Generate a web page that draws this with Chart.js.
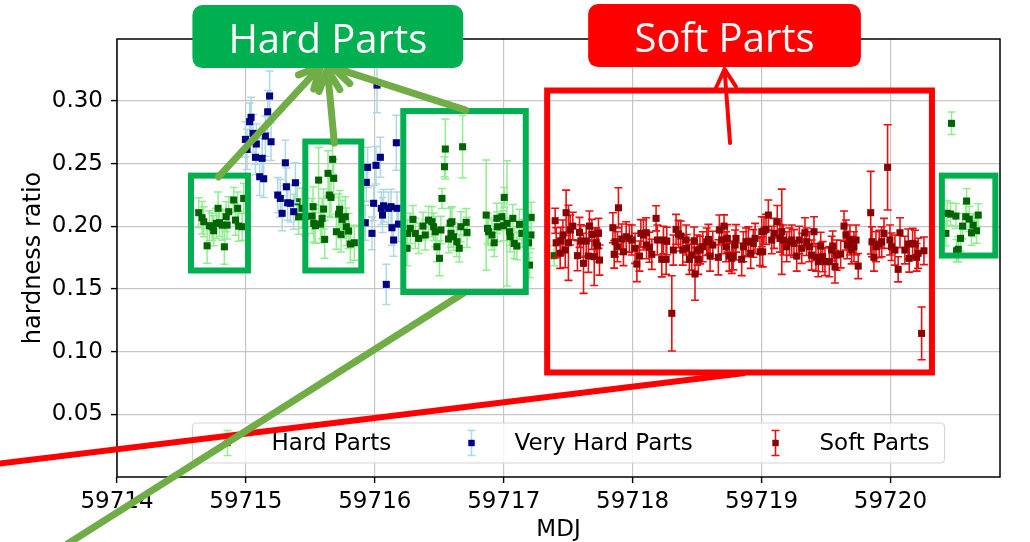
<!DOCTYPE html>
<html>
<head>
<meta charset="utf-8">
<script src="https://cdn.jsdelivr.net/npm/chart.js"></script>
<style>
  html, body { margin: 0; padding: 0; background: #fff; }
  #wrap { width: 1030px; height: 542px; }
</style>
</head>
<body>
<div id="wrap"><canvas id="moncanvas" width="1030" height="542"></canvas></div>
<script>
const seriesNames = ['Hard Parts', 'Very Hard Parts', 'Soft Parts'];
const xTicks = [59714, 59715, 59716, 59717, 59718, 59719, 59720];
const yTicks = [0.05, 0.10, 0.15, 0.20, 0.25, 0.30];

// hard parts (green)
const hardX = [
  59714.634, 59714.660, 59714.673, 59714.699, 59714.717, 59714.738, 59714.750, 59714.771, 59714.784, 59714.795,
  59714.816, 59714.833, 59714.847, 59714.854, 59714.867, 59714.905, 59714.919, 59714.936, 59714.944, 59714.971,
  59714.983,
  59715.397, 59715.409, 59715.436, 59715.461, 59715.513, 59715.521, 59715.526, 59715.539, 59715.564, 59715.578,
  59715.591, 59715.603, 59715.611, 59715.637, 59715.647, 59715.660, 59715.673, 59715.681, 59715.702, 59715.719,
  59715.727, 59715.738, 59715.746, 59715.771, 59715.779, 59715.797, 59715.810, 59715.841,
  59716.250, 59716.254, 59716.275, 59716.296, 59716.314, 59716.340, 59716.374, 59716.391, 59716.417, 59716.443,
  59716.456, 59716.469, 59716.482, 59716.502, 59716.513, 59716.521, 59716.541, 59716.547, 59716.572, 59716.585,
  59716.591, 59716.598, 59716.611, 59716.637, 59716.655, 59716.668, 59716.681, 59716.709, 59716.715, 59716.864,
  59716.874, 59716.882, 59716.909, 59716.926, 59716.947, 59716.950, 59716.986, 59716.998, 59717.004, 59717.025,
  59717.045, 59717.050, 59717.071, 59717.081, 59717.102, 59717.122, 59717.141, 59717.192, 59717.200, 59717.211,
  59717.213, 59717.391,
  59720.430, 59720.440, 59720.467, 59720.474, 59720.508, 59720.513, 59720.526, 59720.544, 59720.560, 59720.585,
  59720.591, 59720.611, 59720.629, 59720.642, 59720.668, 59720.681
];
const hardY = [
  0.2109, 0.2069, 0.2037, 0.1845, 0.2005, 0.1997, 0.1965, 0.2024, 0.2144, 0.2029,
  0.2010, 0.1837, 0.2077, 0.2010, 0.2117, 0.2210, 0.2050, 0.2144, 0.2002, 0.1997,
  0.2223,
  0.2196, 0.2077, 0.2144, 0.2077, 0.2082, 0.2157, 0.2024, 0.2005, 0.2369, 0.2018,
  0.2064, 0.2138, 0.1896, 0.2423, 0.2250, 0.2231, 0.2535, 0.2383, 0.1957, 0.2098,
  0.2136, 0.1936, 0.2056, 0.2077, 0.1997, 0.1963, 0.1859, 0.1869,
  0.1825, 0.1944, 0.1984, 0.2056, 0.1944, 0.1904, 0.2002, 0.1931, 0.2050, 0.2037,
  0.1997, 0.1957, 0.1837, 0.1745, 0.1971, 0.2223, 0.2476, 0.2617, 0.1899, 0.2024,
  0.1944, 0.2037, 0.1917, 0.1877, 0.1825, 0.1997, 0.2635, 0.2032, 0.1952, 0.2090,
  0.1984, 0.1957, 0.1931, 0.1869, 0.2064, 0.1997, 0.2077, 0.2005, 0.2231, 0.2024,
  0.1957, 0.1917, 0.2064, 0.1864, 0.1843, 0.2016, 0.1944, 0.1869, 0.1691, 0.1931,
  0.2072, 0.1766,
  0.1944, 0.2104, 0.2098, 0.2822, 0.2082, 0.1805, 0.1817, 0.1904, 0.2002, 0.2077,
  0.2202, 0.2058, 0.1949, 0.2010, 0.1965, 0.2090
];
const hardErr = [
  0.012, 0.013, 0.012, 0.014, 0.012, 0.011, 0.012, 0.012, 0.013, 0.011,
  0.012, 0.014, 0.012, 0.011, 0.012, 0.010, 0.012, 0.013, 0.012, 0.011,
  0.012,
  0.015, 0.014, 0.016, 0.015, 0.014, 0.016, 0.015, 0.014, 0.026, 0.015,
  0.016, 0.016, 0.015, 0.018, 0.017, 0.016, 0.012, 0.015, 0.014, 0.016,
  0.015, 0.014, 0.015, 0.016, 0.015, 0.014, 0.015, 0.014,
  0.014, 0.011, 0.012, 0.011, 0.012, 0.012, 0.011, 0.012, 0.011, 0.012,
  0.011, 0.012, 0.012, 0.014, 0.011, 0.008, 0.008, 0.024, 0.011, 0.012,
  0.011, 0.012, 0.011, 0.012, 0.011, 0.012, 0.025, 0.011, 0.012, 0.044,
  0.012, 0.011, 0.012, 0.011, 0.012, 0.012, 0.011, 0.012, 0.008, 0.050,
  0.011, 0.012, 0.011, 0.012, 0.011, 0.012, 0.011, 0.012, 0.010, 0.011,
  0.012, 0.008,
  0.010, 0.010, 0.009, 0.009, 0.010, 0.009, 0.010, 0.010, 0.010, 0.010,
  0.010, 0.010, 0.010, 0.009, 0.010, 0.009
];

// very hard parts (navy)
const veryHardX = [
  59714.996, 59715.009, 59715.029, 59715.040, 59715.056, 59715.074, 59715.081, 59715.107, 59715.126, 59715.138,
  59715.151, 59715.169, 59715.184, 59715.195, 59715.247, 59715.267, 59715.281, 59715.306, 59715.314, 59715.324,
  59715.345, 59715.371, 59715.384,
  59715.926, 59715.934, 59715.944, 59715.978, 59715.991, 59716.009, 59716.017, 59716.043, 59716.050, 59716.060,
  59716.068, 59716.089, 59716.107, 59716.126, 59716.133, 59716.146, 59716.167, 59716.172, 59716.184
];
const veryHardY = [
  0.2694, 0.2614, 0.2835, 0.2870, 0.2742, 0.2551, 0.2657, 0.2396, 0.2543, 0.2380,
  0.2720, 0.2914, 0.3040, 0.2675, 0.2250, 0.2223, 0.2104, 0.2507, 0.2316, 0.2188,
  0.2184, 0.2117, 0.2348,
  0.2029, 0.2351, 0.2471, 0.1944, 0.2184, 0.2487, 0.3127, 0.2551, 0.2144, 0.2090,
  0.2164, 0.1537, 0.2144, 0.2157, 0.1989, 0.1891, 0.2667, 0.2144, 0.2018
];
const veryHardErr = [
  0.014, 0.016, 0.015, 0.016, 0.015, 0.014, 0.016, 0.015, 0.016, 0.015,
  0.016, 0.017, 0.020, 0.015, 0.014, 0.015, 0.014, 0.018, 0.015, 0.014,
  0.015, 0.014, 0.016,
  0.014, 0.015, 0.016, 0.013, 0.014, 0.015, 0.022, 0.016, 0.013, 0.014,
  0.013, 0.016, 0.013, 0.014, 0.014, 0.013, 0.022, 0.013, 0.014
];

// soft parts (dark red)
const softX = [
  59717.399, 59717.407, 59717.438, 59717.443, 59717.459, 59717.477, 59717.484, 59717.502, 59717.516, 59717.536,
  59717.572, 59717.588, 59717.598, 59717.619, 59717.640, 59717.657, 59717.665, 59717.684, 59717.702, 59717.717,
  59717.727, 59717.735, 59717.743, 59717.847, 59717.857, 59717.864, 59717.882, 59717.890, 59717.916, 59717.929,
  59717.950, 59717.975, 59717.994, 59718.019, 59718.033, 59718.053, 59718.064, 59718.084, 59718.105, 59718.108,
  59718.130, 59718.149, 59718.182, 59718.192, 59718.226, 59718.239, 59718.260, 59718.265, 59718.304, 59718.316,
  59718.337, 59718.355, 59718.374, 59718.389, 59718.415, 59718.420, 59718.440, 59718.459, 59718.477, 59718.484,
  59718.502, 59718.510, 59718.523, 59718.544, 59718.575, 59718.588, 59718.601, 59718.622, 59718.665, 59718.673,
  59718.691, 59718.709, 59718.725, 59718.735, 59718.750, 59718.769, 59718.781, 59718.795, 59718.802, 59718.846,
  59718.859, 59718.880, 59718.898, 59718.916, 59718.936, 59718.950, 59718.988, 59719.002, 59719.009, 59719.019,
  59719.035, 59719.053, 59719.079, 59719.097, 59719.122, 59719.143, 59719.157, 59719.169, 59719.195, 59719.216,
  59719.234, 59719.252, 59719.273, 59719.293, 59719.312, 59719.337, 59719.350, 59719.371, 59719.389, 59719.407,
  59719.422, 59719.440, 59719.459, 59719.474, 59719.492, 59719.526, 59719.544, 59719.552, 59719.570, 59719.583,
  59719.614, 59719.640, 59719.655, 59719.665, 59719.686, 59719.699, 59719.717, 59719.733, 59719.750, 59719.847,
  59719.857, 59719.872, 59719.888, 59719.913, 59719.932, 59719.950, 59719.978, 59719.996, 59720.009, 59720.035,
  59720.060, 59720.074, 59720.112, 59720.138, 59720.146, 59720.172, 59720.190, 59720.203, 59720.215, 59720.242,
  59720.260
];
const softY = [
  0.2045, 0.1869, 0.1785, 0.1883, 0.1931, 0.1811, 0.2109, 0.1869, 0.1971, 0.2002,
  0.1766, 0.1952, 0.1883, 0.1705, 0.1883, 0.1763, 0.2002, 0.1936, 0.1758, 0.1869,
  0.1845, 0.1944, 0.1731, 0.1989, 0.1777, 0.1877, 0.1837, 0.2148, 0.1899, 0.1797,
  0.1917, 0.1904, 0.1891, 0.1825, 0.1699, 0.1763, 0.1944, 0.1931, 0.1949, 0.1851,
  0.1833, 0.1777, 0.2064, 0.1891, 0.1737, 0.1891, 0.1737, 0.1883, 0.1306, 0.1811,
  0.1976, 0.1939, 0.1923, 0.1811, 0.1891, 0.1825, 0.1737, 0.1771, 0.1885, 0.1620,
  0.1811, 0.1737, 0.1811, 0.1837, 0.1877, 0.1896, 0.1763, 0.1851, 0.1753, 0.1971,
  0.1891, 0.2002, 0.1837, 0.1904, 0.1763, 0.1745, 0.1763, 0.1851, 0.1904, 0.1737,
  0.1837, 0.1877, 0.1877, 0.1785, 0.1864, 0.1904, 0.1797, 0.1957, 0.1797, 0.1965,
  0.1976, 0.2090, 0.1891, 0.1944, 0.2037, 0.1904, 0.1957, 0.1891, 0.1837, 0.1877,
  0.1891, 0.1864, 0.1763, 0.1891, 0.1825, 0.1949, 0.1877, 0.1837, 0.1771, 0.1957,
  0.1753, 0.1718, 0.1843, 0.1758, 0.1718, 0.1718, 0.1811, 0.1843, 0.1678, 0.1771,
  0.1779, 0.2002, 0.1931, 0.1851, 0.1891, 0.1811, 0.1837, 0.1891, 0.1683, 0.2109,
  0.1877, 0.1753, 0.1837, 0.1859, 0.1877, 0.1944, 0.2471, 0.1891, 0.1837, 0.1811,
  0.1657, 0.1949, 0.1811, 0.1859, 0.1745, 0.1864, 0.1859, 0.1753, 0.1785, 0.1146,
  0.1805
];
const softErr = [
  0.010, 0.012, 0.012, 0.011, 0.012, 0.014, 0.018, 0.030, 0.012, 0.011,
  0.012, 0.012, 0.013, 0.024, 0.012, 0.013, 0.012, 0.012, 0.023, 0.012,
  0.013, 0.012, 0.012, 0.012, 0.011, 0.012, 0.012, 0.016, 0.012, 0.011,
  0.012, 0.011, 0.012, 0.012, 0.014, 0.012, 0.011, 0.012, 0.012, 0.011,
  0.012, 0.012, 0.010, 0.012, 0.014, 0.011, 0.012, 0.011, 0.030, 0.012,
  0.012, 0.011, 0.012, 0.012, 0.012, 0.011, 0.012, 0.012, 0.011, 0.021,
  0.012, 0.012, 0.011, 0.012, 0.011, 0.012, 0.012, 0.011, 0.014, 0.012,
  0.011, 0.009, 0.012, 0.011, 0.012, 0.012, 0.011, 0.012, 0.011, 0.013,
  0.012, 0.011, 0.012, 0.012, 0.011, 0.012, 0.011, 0.012, 0.012, 0.011,
  0.012, 0.012, 0.011, 0.012, 0.013, 0.011, 0.034, 0.012, 0.012, 0.011,
  0.012, 0.011, 0.012, 0.011, 0.012, 0.012, 0.011, 0.012, 0.012, 0.012,
  0.011, 0.012, 0.011, 0.012, 0.011, 0.012, 0.011, 0.012, 0.013, 0.012,
  0.011, 0.012, 0.012, 0.011, 0.012, 0.011, 0.012, 0.012, 0.010, 0.033,
  0.012, 0.011, 0.012, 0.011, 0.012, 0.012, 0.034, 0.012, 0.011, 0.012,
  0.010, 0.012, 0.011, 0.012, 0.011, 0.012, 0.011, 0.011, 0.012, 0.021,
  0.011
];

// annotation overlay, in axis units (days after 59714, hardness ratio)
const MJD0 = 59714;
const greenBoxes = [
  [0.574, 1.016, 0.2405, 0.1648],
  [1.461, 1.895, 0.2677, 0.1648],
  [2.221, 3.171, 0.2920, 0.1476],
  [6.399, 6.814, 0.2405, 0.1767]
];
const redBox = [3.337, 6.322, 0.3084, 0.0834];
const greenArrows = [
  [0.787, 0.2394, 1.581, 0.3279],
  [1.686, 0.2665, 1.632, 0.3255],
  [2.705, 0.2928, 1.671, 0.3271]
];
const redArrow = [4.756, 0.2665, 4.713, 0.3255];
const greenLine = [2.702, 0.1476, -0.593, -0.0670];
const redLine = [4.872, 0.0830, -0.981, 0.0098];
const noteLabels = [
  { text: 'Hard Parts', box: [0.585, 2.686, 0.3766, 0.3263], color: '#00b050' },
  { text: 'Soft Parts', box: [3.655, 5.771, 0.3774, 0.3271], color: '#ff0000' }
];

function points(xs, ys, es) {
  return xs.map((x, i) => ({ x: x, y: ys[i], e: es[i] }));
}

const FONT = '"DejaVu Sans", sans-serif';

const errorBars = {
  id: 'errorBars',
  beforeDatasetDraw(chart, args) {
    const ds = chart.data.datasets[args.index];
    const { ctx, chartArea: a, scales: { x, y } } = chart;
    ctx.save();
    ctx.beginPath();
    ctx.rect(a.left, a.top, a.right - a.left, a.bottom - a.top);
    ctx.clip();
    ctx.strokeStyle = ds.errColor;
    ctx.lineWidth = ds.errWidth;
    ctx.beginPath();
    for (const p of ds.data) {
      const px = x.getPixelForValue(p.x);
      const t = y.getPixelForValue(p.y + p.e);
      const b = y.getPixelForValue(p.y - p.e);
      ctx.moveTo(px, t); ctx.lineTo(px, b);
      ctx.moveTo(px - 4, t); ctx.lineTo(px + 4, t);
      ctx.moveTo(px - 4, b); ctx.lineTo(px + 4, b);
    }
    ctx.stroke();
    ctx.restore();
  }
};

const spines = {
  id: 'spines',
  afterDatasetsDraw(chart) {
    const { ctx, chartArea: a } = chart;
    ctx.save();
    ctx.strokeStyle = '#000';
    ctx.lineWidth = 1.5;
    ctx.strokeRect(a.left, a.top, a.right - a.left, a.bottom - a.top);
    ctx.restore();
  }
};

// matplotlib-like legend in the lower part of the axes
const mplLegend = {
  id: 'mplLegend',
  afterDatasetsDraw(chart) {
    const { ctx, chartArea: a } = chart;
    const L = a.left + 75.5, T = a.top + 384, W = 752, H = 40;
    const cy = T + H / 2;
    ctx.save();
    ctx.fillStyle = 'rgba(255,255,255,0.8)';
    ctx.strokeStyle = '#d6d6d6';
    ctx.lineWidth = 1.2;
    ctx.beginPath();
    ctx.roundRect(L, T, W, H, 4);
    ctx.fill();
    ctx.stroke();
    const handleX = [35, 279, 583];
    const textX = [79, 322, 627];
    chart.data.datasets.forEach((ds, i) => {
      const hx = L + handleX[i];
      ctx.strokeStyle = ds.errColor;
      ctx.lineWidth = ds.errWidth;
      ctx.beginPath();
      ctx.moveTo(hx, cy - 12.5); ctx.lineTo(hx, cy + 12.5);
      ctx.moveTo(hx - 4, cy - 12.5); ctx.lineTo(hx + 4, cy - 12.5);
      ctx.moveTo(hx - 4, cy + 12.5); ctx.lineTo(hx + 4, cy + 12.5);
      ctx.stroke();
      ctx.fillStyle = ds.backgroundColor;
      ctx.fillRect(hx - 3.2, cy - 3.2, 6.4, 6.4);
      ctx.fillStyle = '#000';
      ctx.font = '23px ' + FONT;
      ctx.textBaseline = 'middle';
      ctx.textAlign = 'left';
      ctx.fillText(ds.label, L + textX[i], cy + 1);
    });
    ctx.restore();
  }
};

function arrow(ctx, x1, y1, x2, y2, head, spread) {
  const ang = Math.atan2(y2 - y1, x2 - x1);
  ctx.beginPath();
  ctx.moveTo(x1, y1); ctx.lineTo(x2, y2);
  for (const s of [-1, 1]) {
    ctx.moveTo(x2, y2);
    ctx.lineTo(x2 - head * Math.cos(ang + s * spread), y2 - head * Math.sin(ang + s * spread));
  }
  ctx.stroke();
}

const notes = {
  id: 'notes',
  afterDraw(chart) {
    const { ctx, scales: { x, y } } = chart;
    const X = v => x.getPixelForValue(MJD0 + v);
    const Y = v => y.getPixelForValue(v);
    ctx.save();
    ctx.lineJoin = 'miter';
    // long lines
    ctx.lineCap = 'butt';
    ctx.strokeStyle = '#ff0000';
    ctx.lineWidth = 6;
    ctx.beginPath();
    ctx.moveTo(X(redLine[0]), Y(redLine[1])); ctx.lineTo(X(redLine[2]), Y(redLine[3]));
    ctx.stroke();
    ctx.strokeStyle = '#70ad47';
    ctx.lineWidth = 7;
    ctx.beginPath();
    ctx.moveTo(X(greenLine[0]), Y(greenLine[1])); ctx.lineTo(X(greenLine[2]), Y(greenLine[3]));
    ctx.stroke();
    // boxes
    ctx.lineWidth = 6;
    ctx.strokeStyle = '#00b050';
    for (const b of greenBoxes) {
      ctx.strokeRect(X(b[0]), Y(b[2]), X(b[1]) - X(b[0]), Y(b[3]) - Y(b[2]));
    }
    ctx.strokeStyle = '#ff0000';
    ctx.strokeRect(X(redBox[0]), Y(redBox[2]), X(redBox[1]) - X(redBox[0]), Y(redBox[3]) - Y(redBox[2]));
    // arrows
    ctx.lineCap = 'round';
    ctx.strokeStyle = '#70ad47';
    ctx.lineWidth = 7;
    for (const r of greenArrows) {
      arrow(ctx, X(r[0]), Y(r[1]), X(r[2]), Y(r[3]), 24, 0.45);
    }
    ctx.strokeStyle = '#ff0000';
    ctx.lineWidth = 4;
    arrow(ctx, X(redArrow[0]), Y(redArrow[1]), X(redArrow[2]), Y(redArrow[3]), 21, 0.5);
    // labels
    for (const n of noteLabels) {
      const l = X(n.box[0]), r = X(n.box[1]), t = Y(n.box[2]), b = Y(n.box[3]);
      ctx.fillStyle = n.color;
      ctx.beginPath();
      ctx.roundRect(l, t, r - l, b - t, 10);
      ctx.fill();
      ctx.fillStyle = '#fff';
      ctx.font = '40px "Open Sans", sans-serif';
      ctx.textAlign = 'center';
      ctx.textBaseline = 'alphabetic';
      ctx.fillText(n.text, (l + r) / 2, b - 15);
    }
    ctx.restore();
  }
};

const data = {
  datasets: [
    {
      label: seriesNames[0],
      data: points(hardX, hardY, hardErr),
      backgroundColor: '#006400',
      errColor: '#90ee90',
      errWidth: 1.5,
      order: 3
    },
    {
      label: seriesNames[1],
      data: points(veryHardX, veryHardY, veryHardErr),
      backgroundColor: '#000080',
      errColor: '#add8e6',
      errWidth: 1.5,
      order: 2
    },
    {
      label: seriesNames[2],
      data: points(softX, softY, softErr),
      backgroundColor: '#8b0000',
      errColor: '#e81010',
      errWidth: 1.6,
      order: 1
    }
  ]
};

const config = {
  type: 'scatter',
  data: data,
  options: {
    responsive: false,
    animation: false,
    devicePixelRatio: 1,
    layout: { padding: { top: 39, right: 30, left: 0, bottom: 0 } },
    elements: {
      point: { pointStyle: 'rect', radius: 5, borderWidth: 0, hoverRadius: 5 }
    },
    plugins: {
      legend: { display: false },
      tooltip: { enabled: false }
    },
    scales: {
      x: {
        type: 'linear',
        min: 59714,
        max: 59720.85,
        afterBuildTicks: s => { s.ticks = xTicks.map(v => ({ value: v })); },
        afterFit: s => { s.height = 65; },
        ticks: {
          callback: v => String(v),
          font: { family: FONT, size: 23 },
          color: '#000',
          padding: 5,
          maxRotation: 0,
          autoSkip: false
        },
        grid: { color: '#c6c6c6', lineWidth: 1.2, tickLength: 6, tickColor: '#000', tickWidth: 1.4 },
        border: { display: false },
        title: {
          display: true,
          text: 'MDJ',
          font: { family: FONT, size: 23 },
          color: '#000',
          padding: { top: 0, bottom: -2 }
        }
      },
      y: {
        min: 0,
        max: 0.3495,
        afterBuildTicks: s => { s.ticks = yTicks.map(v => ({ value: v })); },
        afterFit: s => { s.width = 117; },
        ticks: {
          callback: v => v.toFixed(2),
          font: { family: FONT, size: 23 },
          color: '#000',
          padding: 8
        },
        grid: { color: '#c6c6c6', lineWidth: 1.2, tickLength: 6, tickColor: '#000', tickWidth: 1.4 },
        border: { display: false },
        title: {
          display: true,
          text: 'hardness ratio',
          font: { family: FONT, size: 24 },
          color: '#000',
          padding: { top: 19, bottom: 0 }
        }
      }
    }
  },
  plugins: [errorBars, spines, mplLegend, notes]
};

const myChart = new Chart(document.querySelector('#moncanvas'), config);
</script>
</body>
</html>
